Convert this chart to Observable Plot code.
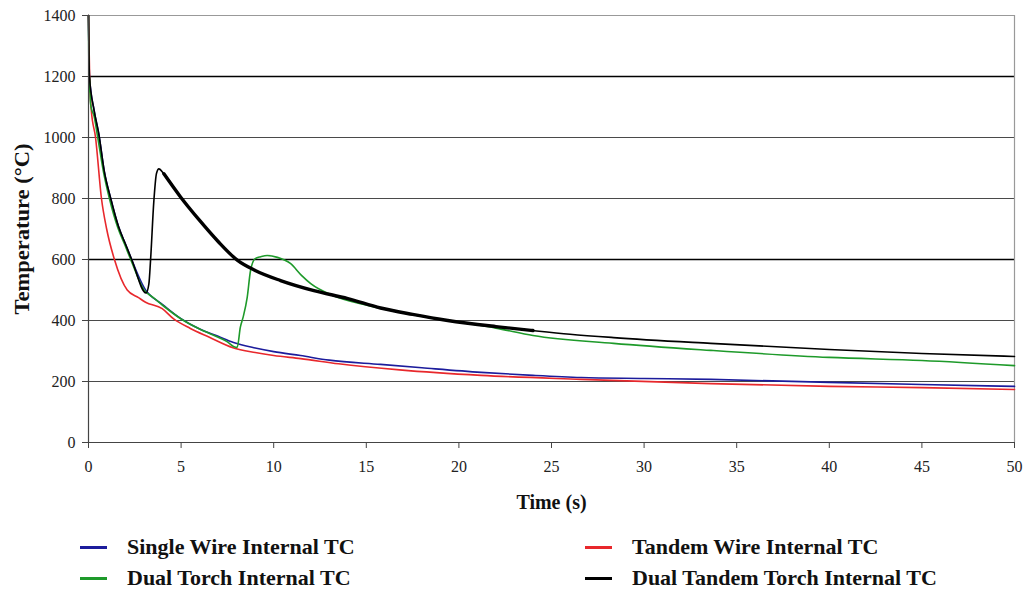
<!DOCTYPE html>
<html>
<head>
<meta charset="utf-8">
<script src="https://cdn.jsdelivr.net/npm/d3@7"></script>
<script src="https://cdn.jsdelivr.net/npm/@observablehq/plot@0.6"></script>
<style>
  html, body { margin: 0; padding: 0; background: #fff; }
  #wrap { position: relative; width: 1030px; height: 590px; font-family: "Liberation Serif", "DejaVu Serif", "Times New Roman", serif; }
  #legend { position: absolute; left: 0; top: 0; width: 1030px; height: 590px; pointer-events: none; }
  .item { position: absolute; display: flex; align-items: center; font-weight: bold; font-size: 22px; color: #111; white-space: nowrap; font-family: "Liberation Serif", "DejaVu Serif", serif; }
  .sw { width: 27px; height: 3px; margin-right: 20px; }
</style>
</head>
<body>
<div id="wrap"><div id="chart"></div><div id="legend"></div></div>
<script>
// ---- data ----
const seriesNames = ["Single Wire Internal TC", "Tandem Wire Internal TC", "Dual Torch Internal TC", "Dual Tandem Torch Internal TC"];
const seriesColors = ["#1c1c9c", "#e8282c", "#1e9a2a", "#000000"];

const singleT = [0, 0.05, 0.3, 0.56, 0.85, 1.2, 1.62, 2.0, 2.33, 3.11, 3.25, 4.0, 4.97, 6.0, 7.0, 7.83, 9.0, 10.0, 11.45, 13.0, 15.77, 18.0, 21.2, 24.0, 26.6, 30.0, 33.6, 40.0, 45.0, 50.0];
const singleV = [1400, 1200, 1090, 1010, 890, 800, 708, 650, 600, 498, 488, 452, 407, 372, 348, 328, 310, 298, 285, 270, 256, 245, 230, 220, 213, 210, 207, 197, 190, 184];

const tandemT = [0, 0.06, 0.15, 0.38, 0.7, 0.98, 1.4, 2.09, 2.7, 3.08, 3.98, 4.6, 5.5, 6.5, 7.8, 9.0, 10.0, 11.45, 13.5, 16.8, 21.2, 26.6, 33.6, 40.0, 45.0, 50.0];
const tandemV = [1400, 1200, 1090, 1000, 800, 700, 600, 500, 475, 460, 439, 405, 374, 346, 311, 295, 285, 275, 258, 238, 220, 207, 193, 184, 180, 174];

const dualT = [0, 0.03, 0.06, 0.1, 0.14, 0.3, 0.5, 0.8, 1.13, 1.58, 1.95, 2.28, 3.0, 3.5, 4.0, 5.0, 6.0, 7.0, 7.5, 7.83, 8.03, 8.2, 8.35, 8.57, 8.75, 9.0, 9.3, 9.65, 10.2, 10.9, 11.5, 12.0, 13.2, 15.1, 17.0, 19.4, 22.0, 24.0, 28.35, 33.6, 40.0, 45.0, 50.0];
const dualV = [1400, 1150, 1200, 1120, 1100, 1070, 1000, 890, 800, 705, 650, 600, 500, 475, 450, 405, 372, 345, 330, 315, 312, 378, 411, 476, 564, 603, 609, 613, 607, 587, 548, 521, 482, 449, 425, 400, 375, 351, 325, 302, 279, 269, 252];

const dtT = [0, 0.05, 0.3, 0.56, 0.85, 1.2, 1.62, 2.0, 2.33, 3.11, 3.26, 3.35, 3.53, 3.67, 3.8, 4.07, 4.97, 6.0, 7.0, 8.05, 9.0, 10.37, 12.17, 14.0, 15.77, 17.5, 19.4, 22.0, 24.0, 26.0, 28.35, 33.6, 40.0, 45.0, 50.0];
const dtV = [1400, 1200, 1090, 1010, 890, 800, 708, 650, 600, 490, 520, 597, 793, 882, 897, 881, 805, 728, 659, 597, 564, 531, 498, 472, 441, 420, 400, 380, 367, 355, 344, 325, 305, 292, 282];

const xTicks = [0, 5, 10, 15, 20, 25, 30, 35, 40, 45, 50];
const yTicks = [0, 200, 400, 600, 800, 1000, 1200, 1400];
const darkGrid = [600, 1200];
const xLabel = "Time (s)";
const yLabel = "Temperature (°C)";

// ---- build table ----
const seriesT = [singleT, tandemT, dualT, dtT];
const seriesV = [singleV, tandemV, dualV, dtV];
const rows = [];
seriesNames.forEach((name, i) => {
  seriesT[i].forEach((t, j) => rows.push({series: name, t, v: seriesV[i][j]}));
});
const hairy = rows.filter(d => d.series === seriesNames[3] && d.t >= 4.07 && d.t <= 24.5);

const serif = "'Liberation Serif', 'DejaVu Serif', 'Times New Roman', serif";
const chart = Plot.plot({
  width: 1030,
  height: 515,
  marginLeft: 88,
  marginRight: 16,
  marginTop: 15,
  marginBottom: 73,
  style: {fontFamily: serif, fontSize: "16px", color: "#222", background: "#fff"},
  x: {domain: [0, 50], ticks: xTicks},
  y: {domain: [0, 1400], ticks: yTicks},
  color: {domain: seriesNames, range: seriesColors},
  marks: [
    Plot.ruleY(yTicks.filter(v => v > 0 && v < 1400), {stroke: "#4a4a4a", strokeWidth: 1}),
    Plot.ruleY(darkGrid, {stroke: "#000", strokeWidth: 1.6}),
    Plot.ruleY([1400], {stroke: "#999", strokeWidth: 1.2}),
    Plot.ruleX([50], {stroke: "#999", strokeWidth: 1.2}),
    Plot.line(rows, {x: "t", y: "v", z: "series", stroke: "series", strokeWidth: 1.6, curve: "monotone-x"}),
    Plot.line(hairy, {x: "t", y: "v", stroke: "#000", strokeWidth: 3.4, curve: "monotone-x"}),
    Plot.ruleY([0], {stroke: "#444", strokeWidth: 1.2}),
    Plot.ruleX([0], {stroke: "#444", strokeWidth: 1.2}),
    Plot.axisX({ticks: xTicks, tickFormat: d3.format("d"), tickSize: 6, tickPadding: 12, label: null, stroke: "#444", fontSize: 16, fontFamily: serif}),
    Plot.axisY({ticks: yTicks, tickFormat: d3.format("d"), tickSize: 6, tickPadding: 7, label: null, stroke: "#444", fontSize: 16, fontFamily: serif}),
    Plot.text([xLabel], {frameAnchor: "bottom", dy: 60, fontWeight: "bold", fontSize: 20, fontFamily: serif, fill: "#111", textAnchor: "middle", lineAnchor: "middle"}),
    Plot.text([yLabel], {frameAnchor: "left", dx: -66, rotate: -90, fontWeight: "bold", fontSize: 20, fontFamily: serif, fill: "#111", textAnchor: "middle", lineAnchor: "middle"})
  ]
});
document.getElementById("chart").appendChild(chart);

// stretch the y label a little like the reference
d3.select(chart).selectAll("text").filter(function() { return this.textContent === yLabel; })
  .attr("textLength", 171).attr("lengthAdjust", "spacingAndGlyphs");

// ---- legend (HTML, below the SVG) ----
const legendPos = [[80, 547], [585, 547], [80, 578], [585, 578]];
const legend = document.getElementById("legend");
seriesNames.forEach((name, i) => {
  const el = document.createElement("div");
  el.className = "item";
  el.style.left = legendPos[i][0] + "px";
  el.style.top = (legendPos[i][1] - 13) + "px";
  el.style.height = "26px";
  const sw = document.createElement("span");
  sw.className = "sw";
  sw.style.background = seriesColors[i];
  const tx = document.createElement("span");
  tx.textContent = name;
  el.appendChild(sw);
  el.appendChild(tx);
  legend.appendChild(el);
});
</script>
</body>
</html>
